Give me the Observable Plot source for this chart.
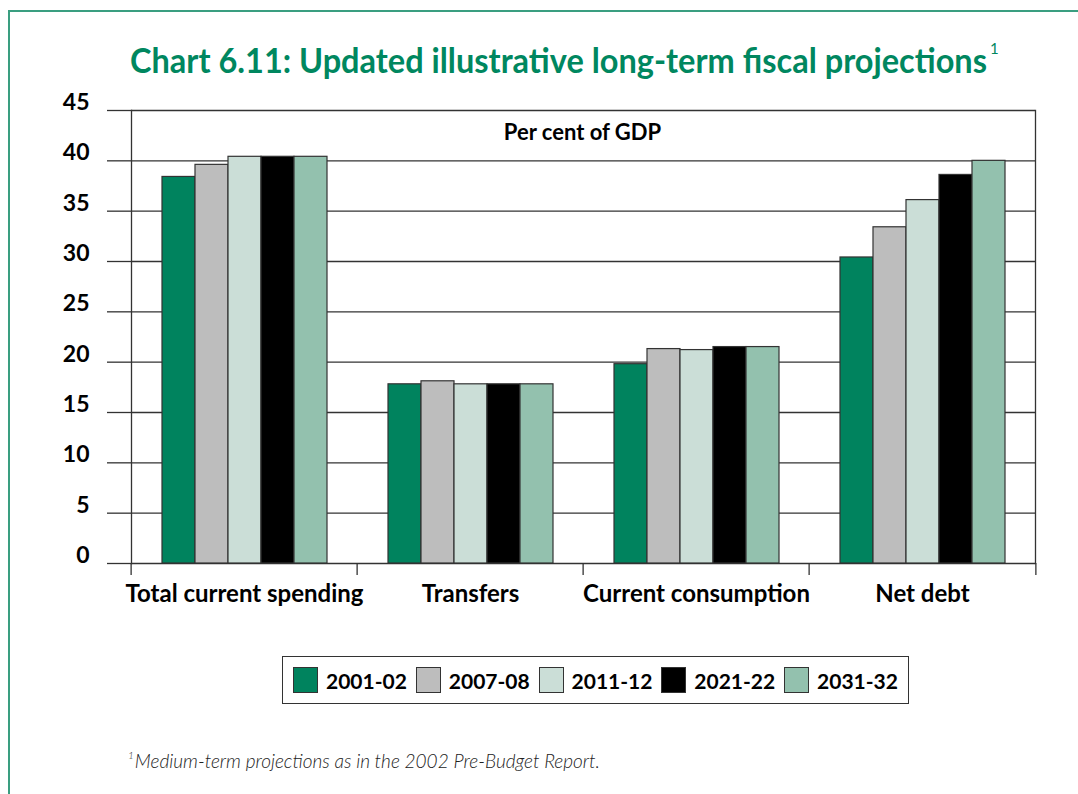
<!DOCTYPE html>
<html><head><meta charset="utf-8">
<script src="https://cdn.jsdelivr.net/npm/d3@7"></script>
<script src="https://cdn.jsdelivr.net/npm/@observablehq/plot@0.6"></script>
<style>
body{margin:0;background:#fff;}
#page{position:relative;width:1078px;height:794px;overflow:hidden;font-family:Lato,"Open Sans",sans-serif;color:#000;}
#border{position:absolute;left:8px;top:10px;width:1200px;height:900px;border-left:2px solid #3a9e80;border-top:2px solid #3a9e80;}
#title{position:absolute;left:130px;top:42px;white-space:nowrap;color:#00875f;font-weight:700;font-size:35px;line-height:35px;}
#title .t{display:inline-block;transform-origin:0 0;}
#title sup{position:absolute;font-size:15px;font-weight:400;line-height:15px;top:-1px;}
#chart{position:absolute;left:0;top:90px;}
#unit{position:absolute;left:129px;width:907px;top:121px;text-align:center;font-weight:700;font-size:22px;line-height:22px;}
#legend{position:absolute;left:282px;top:656px;height:46px;border:1.5px solid #333;display:flex;align-items:center;justify-content:space-between;padding:0 10px;box-sizing:content-box;width:605px;}
#legend .item{display:flex;align-items:center;}
#legend .sw{width:25px;height:26px;border:1.3px solid #333;box-sizing:border-box;margin-right:8px;}
#legend .lab{font-weight:700;font-size:21px;line-height:21px;}
#foot{position:absolute;left:128px;top:749px;font-style:italic;font-weight:300;font-size:19px;color:#222;white-space:nowrap;}
#foot sup{font-size:10px;vertical-align:top;position:relative;top:0px;margin-right:1px;}
</style></head><body>
<div id="page">
 <div id="border"></div>
 <div id="title"><span class="t">Chart 6.11: Updated illustrative long-term fiscal projections</span><sup>1</sup></div>
 <div id="chart"></div>
 <div id="unit">Per cent of GDP</div>
 <div id="legend"></div>
 <div id="foot"><sup>1</sup>Medium-term projections as in the 2002 Pre-Budget Report.</div>
</div>
<script>
const categories = ["Total current spending", "Transfers", "Current consumption", "Net debt"];
const years = ["2001-02", "2007-08", "2011-12", "2021-22", "2031-32"];
const colors = ["#00835e", "#bdbdbd", "#cbded7", "#000000", "#93c1ae"];
const v2001_02 = [38.4, 17.8, 19.8, 30.4];
const v2007_08 = [39.6, 18.1, 21.3, 33.4];
const v2011_12 = [40.4, 17.8, 21.2, 36.1];
const v2021_22 = [40.4, 17.8, 21.5, 38.6];
const v2031_32 = [40.4, 17.8, 21.5, 40.0];
const yTicks = [0, 5, 10, 15, 20, 25, 30, 35, 40, 45];

const series = [v2001_02, v2007_08, v2011_12, v2021_22, v2031_32];
const rows = categories.flatMap((c, i) => years.map((y, j) => ({category: c, year: y, value: series[j][i]})));

const W = 1078, ML = 129, MR = 42;
const band = (W - ML - MR) / categories.length;
const lineColor = "#333";

const chart = Plot.plot({
  width: W, height: 533,
  marginTop: 20, marginLeft: ML, marginRight: MR, marginBottom: 60,
  style: {fontFamily: "Lato, 'Open Sans', sans-serif", color: "#000", background: "transparent", overflow: "visible"},
  fx: {domain: categories, padding: 0, axis: null, label: null},
  x: {domain: years, paddingInner: 0, paddingOuter: 0.88, axis: null},
  y: {domain: [0, 45], axis: null},
  color: {domain: years, range: colors},
  marks: [
    Plot.gridY({ticks: yTicks, stroke: lineColor, strokeOpacity: 1, strokeWidth: 1.3}),
    Plot.barY(rows, {fx: "category", x: "year", y: "value", fill: "year", stroke: lineColor, strokeWidth: 1.2}),
    Plot.frame({anchor: "left", facet: "super", stroke: lineColor, strokeWidth: 1.3}),
    Plot.frame({anchor: "right", facet: "super", stroke: lineColor, strokeWidth: 1.3}),
    Plot.axisY({ticks: yTicks, anchor: "left", tickSize: 24, tickFormat: () => "", stroke: lineColor, strokeWidth: 1.3, label: null}),
    Plot.axisY({ticks: yTicks, anchor: "left", tickSize: 0, tickPadding: 42, fontSize: 23, fontWeight: "bold", dy: -8, label: null}),
    Plot.axisFx({anchor: "bottom", tickSize: 12, tickFormat: () => "", dx: -band / 2, stroke: lineColor, strokeWidth: 1.3, label: null}),
    Plot.axisFx({ticks: [categories[categories.length - 1]], anchor: "bottom", tickSize: 12, tickFormat: () => "", dx: band / 2, stroke: lineColor, strokeWidth: 1.3, label: null}),
    Plot.axisFx({anchor: "bottom", tickSize: 0, tickPadding: 21, fontSize: 24, fontWeight: "bold", label: null})
  ]
});
document.getElementById("chart").appendChild(chart);

// legend
const legend = document.getElementById("legend");
years.forEach((y, i) => {
  const it = document.createElement("div"); it.className = "item";
  const sw = document.createElement("div"); sw.className = "sw"; sw.style.background = colors[i];
  const lab = document.createElement("span"); lab.className = "lab"; lab.textContent = y;
  it.appendChild(sw); it.appendChild(lab); legend.appendChild(it);
});

// fit title width
const t = document.querySelector("#title .t");
const tw = t.getBoundingClientRect().width;
const k = 857 / tw;
t.style.transform = `scaleX(${k})`;
const sup = document.querySelector("#title sup");
sup.style.left = (857 + 3) + "px";
</script>
</body></html>
